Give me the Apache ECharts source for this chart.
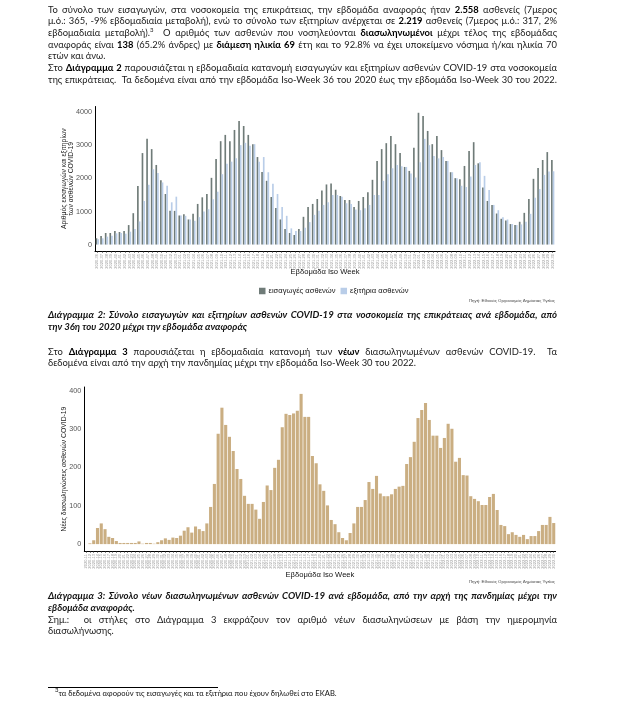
<!DOCTYPE html>
<html>
<head>
<meta charset="utf-8">
<script src="https://cdn.jsdelivr.net/npm/echarts@6/dist/echarts.min.js"></script>
<style>
  html,body{margin:0;padding:0;background:#fff;}
  #chart{position:absolute;left:0;top:0;width:618px;height:706px;}
  .ln{position:absolute;left:48px;width:509px;font-family:Lato,"Noto Sans",sans-serif;font-size:9.4px;line-height:11px;color:#1a1a1a;z-index:2;}
  .j{text-align:justify;text-align-last:justify;}
  .cap{font-weight:bold;font-style:italic;font-size:9.6px;color:#111;}
  b{font-weight:bold;color:#000;}
  sup{font-size:6px;line-height:0;}
  .src{position:absolute;right:63px;font-family:"Liberation Sans",Arial,sans-serif;font-size:4.4px;color:#444;z-index:2;}
  .rule{position:absolute;left:48px;top:687px;width:170px;height:0;border-top:1px solid #000;}
  .fn{position:absolute;left:55px;top:689px;font-family:Lato,"Noto Sans",sans-serif;font-size:7.6px;line-height:9px;color:#111;}
</style>
</head>
<body>
<div id="chart"></div>

<div class="ln j" style="top:3.5px">Το σύνολο των εισαγωγών, στα νοσοκομεία της επικράτειας, την εβδομάδα αναφοράς ήταν <b>2.558</b> ασθενείς (7μερος</div>
<div class="ln j" style="top:15.2px">μ.ό.: 365, -9% εβδομαδιαία μεταβολή), ενώ το σύνολο των εξιτηρίων ανέρχεται σε <b>2.219</b> ασθενείς (7μερος μ.ό.: 317, 2%</div>
<div class="ln j" style="top:26.9px">εβδομαδιαία μεταβολή).<sup>3</sup>&nbsp; Ο αριθμός των ασθενών που νοσηλεύονται <b>διασωληνωμένοι</b> μέχρι τέλος της εβδομάδας</div>
<div class="ln j" style="top:38.6px">αναφοράς είναι <b>138</b> (65.2% άνδρες) με <b>διάμεση ηλικία 69</b> έτη και το 92.8% να έχει υποκείμενο νόσημα ή/και ηλικία 70</div>
<div class="ln" style="top:50.3px">ετών και άνω.</div>
<div class="ln j" style="top:62px">Στο <b>Διάγραμμα 2</b> παρουσιάζεται η εβδομαδιαία κατανομή εισαγωγών και εξιτηρίων ασθενών COVID-19 στα νοσοκομεία</div>
<div class="ln j" style="top:73.7px">της επικράτειας.&nbsp; Τα δεδομένα είναι από την εβδομάδα Iso-Week 36 του 2020 έως την εβδομάδα Iso-Week 30 του 2022.</div>

<div class="src" style="top:298px">Πηγή: Εθνικός Οργανισμός Δημόσιας Υγείας</div>

<div class="ln j cap" style="top:309px">Διάγραμμα 2: Σύνολο εισαγωγών και εξιτηρίων ασθενών COVID-19 στα νοσοκομεία της επικράτειας ανά εβδομάδα, από</div>
<div class="ln cap" style="top:321px">την 36η του 2020 μέχρι την εβδομάδα αναφοράς</div>

<div class="ln j" style="top:346px">Στο <b>Διάγραμμα 3</b> παρουσιάζεται η εβδομαδιαία κατανομή των <b>νέων</b> διασωληνωμένων ασθενών COVID-19.&nbsp; Τα</div>
<div class="ln" style="top:357px">δεδομένα είναι από την αρχή την πανδημίας μέχρι την εβδομάδα Iso-Week 30 του 2022.</div>

<div class="src" style="top:579px">Πηγή: Εθνικός Οργανισμός Δημόσιας Υγείας</div>

<div class="ln j cap" style="top:590px">Διάγραμμα 3: Σύνολο νέων διασωληνωμένων ασθενών COVID-19 ανά εβδομάδα, από την αρχή της πανδημίας μέχρι την</div>
<div class="ln cap" style="top:602px">εβδομάδα αναφοράς.</div>
<div class="ln j" style="top:614px">Σημ.:&nbsp; οι στήλες στο Διάγραμμα 3 εκφράζουν τον αριθμό νέων διασωληνώσεων με βάση την ημερομηνία</div>
<div class="ln" style="top:625px">διασωλήνωσης.</div>

<div class="rule"></div>
<div class="fn"><sup>3</sup>τα δεδομένα αφορούν τις εισαγωγές και τα εξιτήρια που έχουν δηλωθεί στο ΕΚΑΒ.</div>

<script>
// ---- Data ----
var weeksInYear = {2020: 53, 2021: 52, 2022: 52};
function weekLabels(year, week, count) {
  var out = [];
  for (var i = 0; i < count; i++) {
    out.push(year + '-' + (week < 10 ? '0' + week : week));
    week++;
    if (week > weeksInYear[year]) { week = 1; year++; }
  }
  return out;
}

// Diagram 2: Iso-Week 36/2020 .. 30/2022
var weeks2 = weekLabels(2020, 36, 100);
var admissions = [
  190,260,350,350,410,380,410,590,950,1770,
  2770,3200,2890,2410,1950,1530,1020,1020,880,920,
  760,930,1230,1430,1530,2020,2590,3130,3320,3130,
  3470,3740,3590,3320,3040,2650,2200,1930,1440,1110,
  760,470,350,290,470,840,1140,1230,1380,1640,
  1820,1850,1660,1470,1350,1350,1140,1320,1440,1580,
  1960,2530,2890,3070,3290,3040,2770,2350,2230,2930,
  3990,3890,3440,3040,3290,2860,2530,2190,2010,1980,
  2380,2830,3100,2460,1730,1320,1200,940,780,730,
  620,590,690,960,1380,1990,2320,2560,2800,2558
];
var discharges = [
  160,190,240,270,340,350,330,390,470,700,
  1320,1810,2280,2170,1880,1780,1280,1450,880,870,
  760,720,830,1000,1070,1370,1600,2130,2450,2510,
  2610,3010,3080,2990,3040,2510,2650,2190,1840,1530,
  1140,870,490,410,410,510,680,900,1020,1200,
  1280,1500,1500,1450,1250,1230,1060,1040,1100,1200,
  1500,1500,1930,2130,2310,2410,2370,2350,2150,2030,
  2490,3200,3010,2680,2610,2650,2530,2190,2010,1780,
  1740,2060,2410,2490,2080,1650,1200,1040,830,760,
  620,590,610,690,930,1420,1680,2110,2210,2219
];

// Diagram 3: from the start of the pandemic to Iso-Week 30/2022
var weeks3 = weekLabels(2020, 11, 125);
var intubations = [
  0,2,10,42,54,39,19,16,8,3,
  3,3,3,3,7,1,3,3,1,5,
  10,15,11,17,16,22,35,44,30,46,
  39,34,54,97,157,288,356,311,280,243,
  196,170,126,105,105,90,66,110,153,141,
  199,220,305,340,337,341,348,392,332,332,
  230,211,156,139,101,63,52,31,16,10,
  29,54,97,97,115,162,144,178,132,125,
  125,130,144,150,152,209,227,267,329,350,
  368,324,283,283,251,277,314,301,215,225,
  180,179,125,118,112,102,102,123,131,89,
  50,47,26,31,24,19,24,13,21,21,
  34,50,50,71,55
];

var seriesNames = ['εισαγωγές ασθενών', 'εξιτήρια ασθενών'];
var yTicks2 = [0, 1000, 2000, 3000, 4000];
var yTicks3 = [0, 100, 200, 300, 400];

// ---- Chart ----
var chart = echarts.init(document.getElementById('chart'), null, {renderer: 'canvas'});
var axisFont = '"Liberation Sans", Arial, sans-serif';
function tickFormatter(ticks) {
  return function (v) { return ticks.indexOf(v) >= 0 ? String(v) : ''; };
}
function xAxisCommon(idx, data) {
  return {
    type: 'category', gridIndex: idx, data: data,
    axisLine: {onZero: false, lineStyle: {color: '#000', width: 1}},
    axisTick: {show: true, length: 2, interval: 0, alignWithLabel: true, lineStyle: {color: '#333', width: 0.6}},
    axisLabel: {interval: 0, rotate: 90, fontSize: 4, color: '#9a9a9a', margin: 3, fontFamily: axisFont},
    name: 'Εβδομάδα Iso Week', nameLocation: 'middle', nameMoveOverlap: false,
    nameTextStyle: {fontSize: 7.6, color: '#111', fontFamily: axisFont}
  };
}
var xa0 = xAxisCommon(0, weeks2); xa0.nameGap = 17;
var xa1 = xAxisCommon(1, weeks3); xa1.nameGap = 20;

var option = {
  animation: false,
  backgroundColor: 'transparent',
  grid: [
    {left: 95, top: 106.5, width: 460, height: 144.5},
    {left: 84.3, top: 387, width: 471.3, height: 164}
  ],
  legend: {
    data: seriesNames, top: 282, left: 254,
    itemWidth: 6.5, itemHeight: 6.5, itemGap: 5, icon: 'rect',
    textStyle: {fontSize: 7.6, color: '#111', fontFamily: axisFont, padding: [0, 0, 0, -2]}
  },
  xAxis: [xa0, xa1],
  yAxis: [
    {
      type: 'value', gridIndex: 0, min: -195, max: 4180, splitNumber: 4,
      axisLine: {show: true, lineStyle: {color: '#000', width: 1}},
      axisTick: {show: false}, splitLine: {show: false},
      axisLabel: {formatter: tickFormatter(yTicks2), fontSize: 7.2, color: '#555', margin: 3, fontFamily: axisFont},
      name: 'Αριθμός εισαγωγών και εξιτηρίων\nτων ασθενών COVID-19', nameLocation: 'middle', nameGap: 20,
      nameMoveOverlap: false,
      nameTextStyle: {fontSize: 6.8, lineHeight: 7, color: '#222', fontFamily: axisFont}
    },
    {
      type: 'value', gridIndex: 1, min: -18, max: 410, splitNumber: 4,
      axisLine: {show: true, lineStyle: {color: '#000', width: 1}},
      axisTick: {show: false}, splitLine: {show: false},
      axisLabel: {formatter: tickFormatter(yTicks3), fontSize: 7.2, color: '#555', margin: 3, fontFamily: axisFont},
      name: 'Νέες διασωληνώσεις ασθενών COVID-19', nameLocation: 'middle', nameGap: 17,
      nameMoveOverlap: false,
      nameTextStyle: {fontSize: 6.8, color: '#222', fontFamily: axisFont}
    }
  ],
  series: [
    {name: seriesNames[0], type: 'bar', xAxisIndex: 0, yAxisIndex: 0, data: admissions,
     barGap: '0%', barCategoryGap: '28%', itemStyle: {color: '#6f7b78'}},
    {name: seriesNames[1], type: 'bar', xAxisIndex: 0, yAxisIndex: 0, data: discharges,
     itemStyle: {color: '#b9cde8'}},
    {name: 'Νέες διασωληνώσεις', type: 'bar', xAxisIndex: 1, yAxisIndex: 1, data: intubations,
     barCategoryGap: '18%', itemStyle: {color: '#caae82'}}
  ]
};
chart.setOption(option);
</script>
</body>
</html>
